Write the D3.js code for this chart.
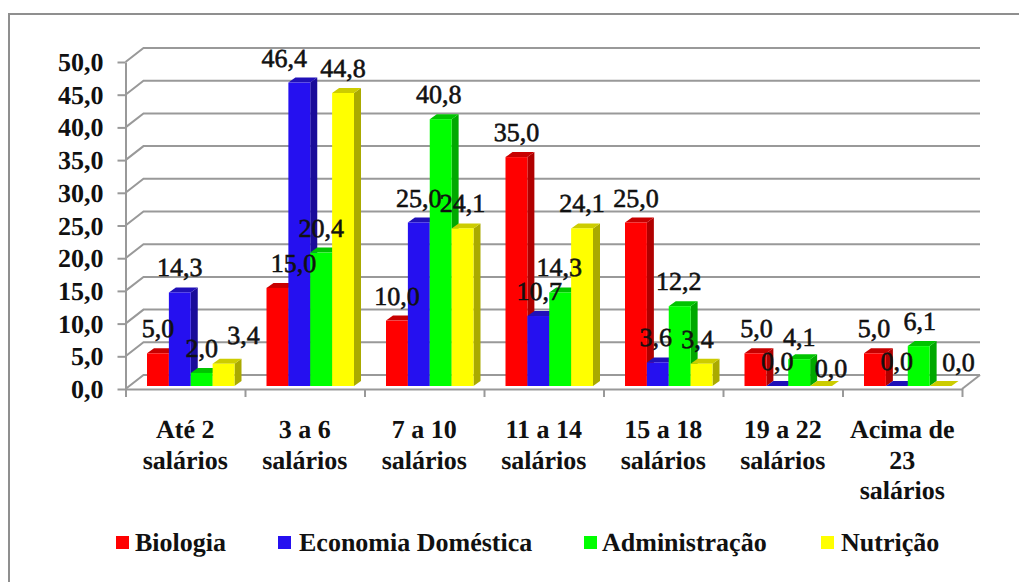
<!DOCTYPE html>
<html>
<head>
<meta charset="utf-8">
<script src="https://cdn.jsdelivr.net/npm/d3@7"></script>
<style>
  html, body { margin: 0; padding: 0; background: #fff; }
  svg { display: block; }
  text { font-family: "Liberation Serif", "Times New Roman", serif; font-weight: bold; fill: #111; text-rendering: geometricPrecision; }
</style>
</head>
<body>
<div id="chart"></div>
<script>
var categories = ["Até 2 salários", "3 a 6 salários", "7 a 10 salários", "11 a 14 salários", "15 a 18 salários", "19 a 22 salários", "Acima de 23 salários"];
var categoryLines = [["Até 2", "salários"], ["3 a 6", "salários"], ["7 a 10", "salários"], ["11 a 14", "salários"], ["15 a 18", "salários"], ["19 a 22", "salários"], ["Acima de", "23", "salários"]];
var seriesNames = ["Biologia", "Economia Doméstica", "Administração", "Nutrição"];
var biologia = [5.0, 15.0, 10.0, 35.0, 25.0, 5.0, 5.0];
var economia = [14.3, 46.4, 25.0, 10.7, 3.6, 0.0, 0.0];
var administracao = [2.0, 20.4, 40.8, 14.3, 12.2, 4.1, 6.1];
var nutricao = [3.4, 44.8, 24.1, 24.1, 3.4, 0.0, 0.0];
var seriesValues = [biologia, economia, administracao, nutricao];
var yTicks = [0, 5, 10, 15, 20, 25, 30, 35, 40, 45, 50];

// colours per series: front, side, top
var colors = [
    ["#ff0000", "#b00000", "#c80000"],
    ["#2510f0", "#1a0c99", "#2010b8"],
    ["#00ff00", "#00a800", "#00c400"],
    ["#ffff00", "#aaaa00", "#cccc00"]
];

// hand placed data label nudges [dx, dy], per series and category
var labelNudge = [
    [[0, 0], [16, 0], [0, 0], [0, 0], [0, 0], [1, 0], [-1, 0]],
    [[0, 0], [-15, 0], [0, 0], [1, 0], [-2, 0], [0, 0], [0, 0]],
    [[0, 0], [0, 0], [-2, 0], [-1, 0], [-1, 0], [0, 3], [1, 0]],
    [[20, -4], [0, 0], [0, 0], [0, 0], [-4, 0], [10, 7], [18, 1]]
];

var width = 1019, height = 582;
var depthX = 18, depthY = 14;      // depth of the chart box
var barDepthX = 7, barDepthY = 5;  // depth of a bar
var floorY = 3;                    // bars sit slightly behind the front edge

var svg = d3.select("#chart").append("svg")
    .attr("width", width)
    .attr("height", height);

var y = d3.scaleLinear().domain([0, 50]).range([389, 62]);
var xEdge = d3.scaleLinear().domain([0, categories.length]).range([125.5, 962]);
var x = d3.scaleBand().domain(categories).range([125.5, 962]);
var xBar = d3.scaleBand().domain(seriesNames).range([21.5, 109]);

function valueText(v) {
    return d3.format(".1f")(v).replace(".", ",");
}

// outer frame, open on the right and at the bottom
svg.append("path")
    .attr("d", d3.line()([[width, 14], [9, 14], [9, height]]))
    .attr("fill", "none")
    .attr("stroke", "#8f8f8f")
    .attr("stroke-width", 2);

// back wall grid and left wall
var grid = svg.append("g")
    .attr("fill", "none")
    .attr("stroke", "#999")
    .attr("stroke-width", 2);

yTicks.forEach(function(t) {
    grid.append("path").attr("d", d3.line()([
        [xEdge(0), y(t)],
        [xEdge(0) + depthX, y(t) - depthY],
        [xEdge(7) + depthX, y(t) - depthY]
    ]));
});
grid.append("path").attr("d", d3.line()([
    [xEdge(7), y(0)],
    [xEdge(7) + depthX, y(0) - depthY]
]));

var yAxis = d3.axisLeft(y)
    .tickValues(yTicks)
    .tickSize(8)
    .tickSizeOuter(0)
    .tickPadding(14)
    .tickFormat(valueText);

var yG = svg.append("g")
    .attr("transform", "translate(" + xEdge(0) + ",0)")
    .call(yAxis);
yG.selectAll("path, line").attr("stroke", "#999").attr("stroke-width", 2);
yG.selectAll("text")
    .style("font-size", "26px")
    .attr("dy", "0.33em");

var xAxis = d3.axisBottom(xEdge)
    .tickValues(d3.range(0, categories.length + 1))
    .tickSize(8)
    .tickSizeOuter(0)
    .tickFormat("");

var xG = svg.append("g")
    .attr("transform", "translate(0," + y(0) + ")")
    .call(xAxis);
xG.selectAll("path, line").attr("stroke", "#999").attr("stroke-width", 2);

// bars, left to right so each one covers the side of the previous one
categories.forEach(function(c, ci) {
    seriesNames.forEach(function(s, si) {
        var v = seriesValues[si][ci];
        var x0 = x(c) + xBar(s);
        var x1 = x0 + xBar.bandwidth();
        var base = y(0) - floorY;
        var top = y(v) - floorY;
        var g = svg.append("g");
        g.append("path")
            .attr("fill", colors[si][1])
            .attr("d", d3.line()([[x1, top], [x1 + barDepthX, top - barDepthY], [x1 + barDepthX, base - barDepthY], [x1, base]]) + "Z");
        g.append("path")
            .attr("fill", colors[si][2])
            .attr("d", d3.line()([[x0, top], [x0 + barDepthX, top - barDepthY], [x1 + barDepthX, top - barDepthY], [x1, top]]) + "Z");
        g.append("rect")
            .attr("x", x0)
            .attr("y", top)
            .attr("width", xBar.bandwidth())
            .attr("height", base - top)
            .attr("fill", colors[si][0]);
    });
});

// data labels go on top of all the bars
categories.forEach(function(c, ci) {
    seriesNames.forEach(function(s, si) {
        var v = seriesValues[si][ci];
        var n = labelNudge[si][ci];
        svg.append("text")
            .attr("x", x(c) + xBar(s) + xBar.bandwidth() / 2 + n[0])
            .attr("y", y(v) - 19 + n[1])
            .attr("text-anchor", "middle")
            .style("font-size", "26px")
            .style("font-weight", "normal")
            .style("stroke", "#111")
            .style("stroke-width", "0.6px")
            .text(valueText(v));
    });
});

// category labels
categories.forEach(function(c, ci) {
    var t = svg.append("text")
        .attr("text-anchor", "middle")
        .style("font-size", "26px");
    categoryLines[ci].forEach(function(line, li) {
        t.append("tspan")
            .attr("x", x(c) + x.bandwidth() / 2)
            .attr("y", 438 + li * 30.5)
            .text(line);
    });
});

// legend
var legendSwatchX = [116, 278, 584, 821];
var legendTextX = [135, 299, 602, 841];
seriesNames.forEach(function(s, si) {
    svg.append("rect")
        .attr("x", legendSwatchX[si])
        .attr("y", 536)
        .attr("width", 13)
        .attr("height", 13)
        .attr("fill", colors[si][0]);
    svg.append("text")
        .attr("x", legendTextX[si])
        .attr("y", 551)
        .style("font-size", "26px")
        .text(s);
});
</script>
</body>
</html>
